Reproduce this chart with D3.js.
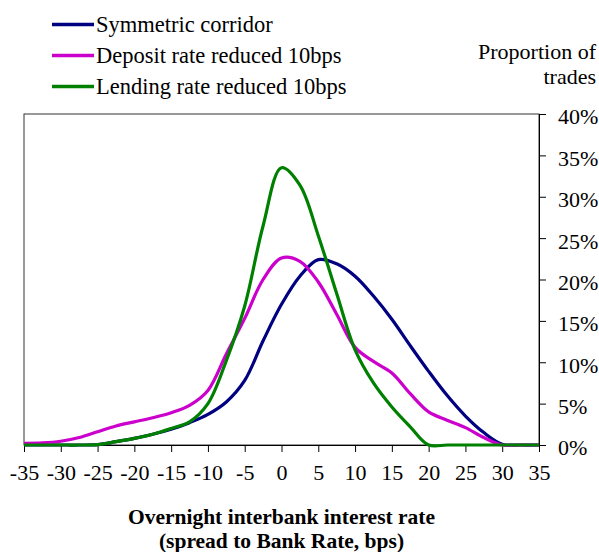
<!DOCTYPE html>
<html>
<head>
<meta charset="utf-8">
<script src="https://cdn.jsdelivr.net/npm/d3@7"></script>
<style>
  body { margin: 0; background: #fff; }
  svg text { font-family: "Liberation Serif", "Times New Roman", serif; fill: #000; }
</style>
</head>
<body>
<div id="chart"></div>
<script>
// spread to Bank Rate (bps), every 2.5bps
var spreads = [-35, -32.5, -30, -27.5, -25, -22.5, -20, -17.5, -15, -12.5, -10, -7.5, -5, -2.5,
               0, 2.5, 5, 7.5, 10, 12.5, 15, 17.5, 20, 22.5, 25, 27.5, 30, 32.5, 35];

// proportion of trades, %
var symmetric = [0, 0, 0, 0, 0.05, 0.4, 0.8, 1.3, 1.9, 2.7, 3.7, 5.2, 7.8, 12.6,
                 17.0, 20.4, 22.4, 21.9, 20.4, 18.0, 15.2, 12.0, 8.9, 6.0, 3.5, 1.5, 0.1, 0, 0];
var deposit   = [0.2, 0.25, 0.45, 0.9, 1.6, 2.3, 2.8, 3.3, 3.9, 4.8, 6.6, 11.0, 15.3, 20.0,
                 22.6, 22.2, 19.7, 15.8, 11.8, 10.1, 8.7, 6.2, 4.0, 3.0, 2.1, 0.9, 0, 0, 0];
var lending   = [0, 0, 0, 0, 0.05, 0.4, 0.8, 1.3, 2.0, 2.8, 5.0, 10.2, 16.8, 26.5,
                 33.5, 31.4, 25.3, 18.3, 11.5, 7.5, 4.6, 2.2, 0, 0, 0, 0, 0, 0, 0];

var seriesNames  = ["Symmetric corridor", "Deposit rate reduced 10bps", "Lending rate reduced 10bps"];
var seriesColors = ["#000080", "#cc00cc", "#008000"];
var xTicks = [-35, -30, -25, -20, -15, -10, -5, 0, 5, 10, 15, 20, 25, 30, 35];
var yTicks = [0, 5, 10, 15, 20, 25, 30, 35, 40];

(function() {
var width = 599, height = 552;
var mLeft = 24, mRight = 539, mTop = 114, mBottom = 445;
var serif = "'Liberation Serif', 'Times New Roman', serif";
var fs = 22;

var svg = d3.select("#chart").append("svg")
    .attr("width", width)
    .attr("height", height)
    .attr("font-family", serif);

var x = d3.scaleLinear().domain([-35, 35]).range([mLeft, mRight]);
var y = d3.scaleLinear().domain([0, 40]).range([mBottom, mTop]);

// plot frame
svg.append("rect")
    .attr("x", mLeft).attr("y", mTop)
    .attr("width", mRight - mLeft).attr("height", mBottom - mTop)
    .attr("fill", "none")
    .attr("stroke", "#333")
    .attr("stroke-width", 1);

// x axis
var xAxis = svg.append("g")
    .attr("transform", "translate(0," + mBottom + ")")
    .call(d3.axisBottom(x).tickValues(xTicks).tickSize(7).tickPadding(12)
        .tickFormat(function(d) { return String(d); }));
xAxis.attr("font-family", serif).attr("font-size", fs);
xAxis.select(".domain").attr("stroke", "#000");

// y axis on the right
var yAxis = svg.append("g")
    .attr("transform", "translate(" + mRight + ",0)")
    .call(d3.axisRight(y).tickValues(yTicks).tickSize(7).tickPadding(12)
        .tickFormat(function(d) { return d + "%"; }));
yAxis.attr("font-family", serif).attr("font-size", fs);
yAxis.selectAll("text").attr("dy", "0.45em");
yAxis.select(".domain").attr("stroke", "#000");

// lines
var allSeries = [symmetric, deposit, lending];
var line = d3.line()
    .x(function(d, i) { return x(spreads[i]); })
    .y(function(d) { return y(d); })
    .curve(d3.curveCatmullRom.alpha(0.5));

svg.selectAll("path.series")
    .data(allSeries)
    .enter().append("path")
    .attr("class", "series")
    .attr("d", line)
    .attr("fill", "none")
    .attr("stroke", function(d, i) { return seriesColors[i]; })
    .attr("stroke-width", 3.2)
    .attr("stroke-linejoin", "round");

// legend
var legendY = [24.5, 55.5, 86.5];
var legend = svg.selectAll("g.legend")
    .data(seriesNames)
    .enter().append("g")
    .attr("class", "legend")
    .attr("transform", function(d, i) { return "translate(0," + legendY[i] + ")"; });
legend.append("line")
    .attr("x1", 52).attr("x2", 94)
    .attr("y1", 0).attr("y2", 0)
    .attr("stroke", function(d, i) { return seriesColors[i]; })
    .attr("stroke-width", 3.5);
legend.append("text")
    .attr("x", 96)
    .attr("y", 7.5)
    .attr("font-size", 22.5)
    .text(function(d) { return d; });

// y axis title
svg.append("text")
    .attr("x", 596).attr("y", 58.5)
    .attr("text-anchor", "end")
    .attr("font-size", fs)
    .text("Proportion of");
svg.append("text")
    .attr("x", 596).attr("y", 83.5)
    .attr("text-anchor", "end")
    .attr("font-size", fs)
    .text("trades");

// x axis title
svg.append("text")
    .attr("x", 281.5).attr("y", 523.5)
    .attr("text-anchor", "middle")
    .attr("font-size", 21.5)
    .attr("font-weight", "bold")
    .text("Overnight interbank interest rate");
svg.append("text")
    .attr("x", 281.5).attr("y", 547.5)
    .attr("text-anchor", "middle")
    .attr("font-size", 21.5)
    .attr("font-weight", "bold")
    .text("(spread to Bank Rate, bps)");
})();
</script>
</body>
</html>
